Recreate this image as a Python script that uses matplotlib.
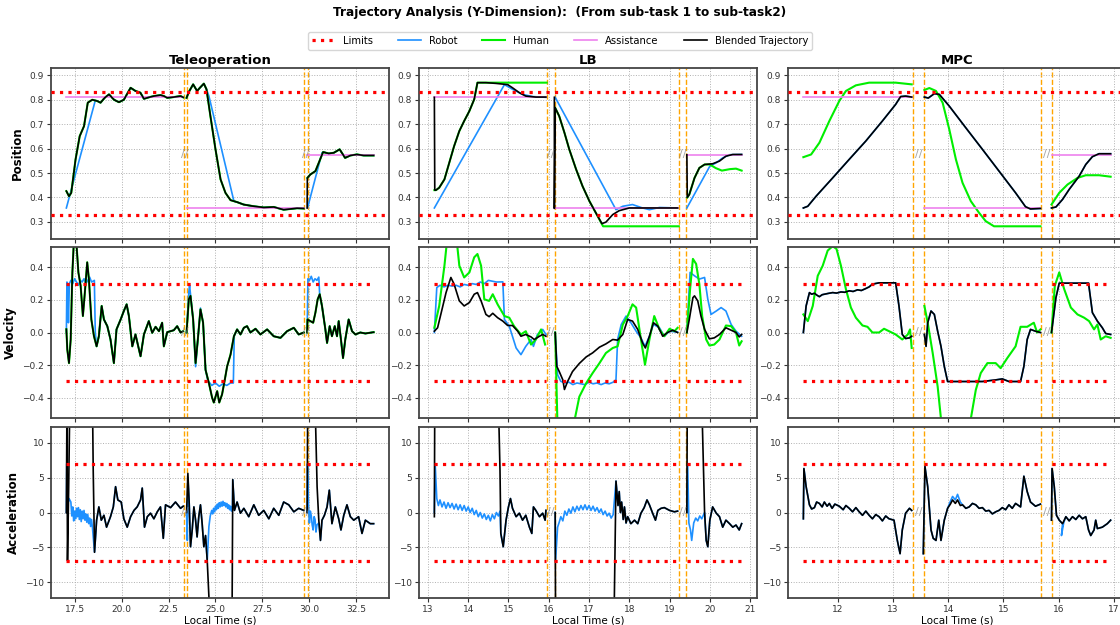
import numpy as np
import matplotlib.pyplot as plt
from matplotlib.ticker import MultipleLocator
from matplotlib.transforms import blended_transform_factory

# -------------------------------------------------------------------
# Trajectory analysis (Y-dimension), three controllers side by side
# -------------------------------------------------------------------

methods = ["Teleoperation", "LB", "MPC"]
row_labels = ["Position", "Velocity", "Acceleration"]

POS_LIMITS = (0.33, 0.83)
VEL_LIMIT = 0.3
ACC_LIMIT = 7.0
assist_targets = [0.81, 0.355, 0.575]

# time span of every sub-task segment
tele_segments = [(17.06, 23.28), (23.46, 29.70), (29.88, 33.42)]
lb_segments = [(13.16, 15.93), (16.14, 19.20), (19.43, 20.79)]
mpc_segments = [(11.38, 13.34), (13.57, 15.67), (15.87, 16.94)]

# orange dashed separators (start/end of each gap)
tele_bounds = [23.30, 23.46, 29.70, 29.90]
lb_bounds = [15.95, 16.15, 19.23, 19.42]
mpc_bounds = [13.36, 13.56, 15.68, 15.88]

# x tick step per column
tick_steps = [2.5, 1.0, 1.0]


def after(points, t0):
    return [p for p in points if p[0] >= t0]


# ------------------------- TELEOPERATION -------------------------
tele_pos_blend = [
    [(17.06, 0.426), (17.2, 0.405), (17.32, 0.419), (17.55, 0.556), (17.77, 0.651), (18.0, 0.692),
     (18.2, 0.788), (18.44, 0.80), (18.7, 0.795), (18.88, 0.788), (19.1, 0.808), (19.33, 0.822),
     (19.6, 0.80), (19.86, 0.79), (20.12, 0.80), (20.48, 0.849), (20.74, 0.836), (21.0, 0.829),
     (21.19, 0.804), (21.45, 0.81), (21.72, 0.815), (22.07, 0.819), (22.25, 0.815), (22.43, 0.808),
     (22.78, 0.811), (23.14, 0.815), (23.28, 0.81)],
    [(23.46, 0.808), (23.58, 0.832), (23.81, 0.863), (24.02, 0.836), (24.17, 0.849), (24.38, 0.866),
     (24.52, 0.843), (24.73, 0.733), (25.0, 0.597), (25.27, 0.474), (25.53, 0.419), (25.8, 0.389),
     (26.15, 0.381), (26.5, 0.371), (27.04, 0.364), (27.57, 0.359), (28.1, 0.361), (28.63, 0.35),
     (28.99, 0.353), (29.34, 0.356), (29.7, 0.355)],
    [(29.88, 0.357), (29.89, 0.48), (30.05, 0.494), (30.32, 0.508), (30.5, 0.542), (30.73, 0.586),
     (31.03, 0.58), (31.3, 0.583), (31.61, 0.597), (31.9, 0.562), (32.18, 0.572), (32.53, 0.576),
     (32.89, 0.572), (33.42, 0.572)],
]
tele_pos_human = [tele_pos_blend[0], tele_pos_blend[1], tele_pos_blend[2][1:]]
tele_pos_robot = [
    [(17.06, 0.357), (18.6, 0.797)] + after(tele_pos_blend[0], 18.7),
    [(23.46, 0.808), (23.58, 0.832), (23.81, 0.863), (24.02, 0.836), (24.17, 0.849), (24.38, 0.866),
     (24.52, 0.843), (24.65, 0.815), (25.98, 0.385)] + after(tele_pos_blend[1], 26.15),
    [(29.9, 0.357), (30.67, 0.583)] + after(tele_pos_blend[2], 30.73),
]

tele_vel_blend = [
    [(17.06, 0.02), (17.11, -0.105), (17.2, -0.188), (17.29, -0.043), (17.38, 0.369), (17.46, 0.56),
     (17.6, 0.54), (17.7, 0.369), (17.82, 0.287), (17.94, 0.101), (18.03, 0.225), (18.17, 0.431),
     (18.26, 0.328), (18.39, 0.08), (18.53, -0.023), (18.67, -0.085), (18.79, -0.023), (18.94, 0.163),
     (19.06, 0.08), (19.24, 0.039), (19.41, -0.043), (19.59, -0.188), (19.73, 0.019), (19.95, 0.08),
     (20.12, 0.132), (20.27, 0.173), (20.39, 0.101), (20.57, -0.085), (20.74, -0.012), (21.01, -0.146),
     (21.19, -0.012), (21.45, 0.07), (21.63, -0.002), (21.81, 0.035), (21.99, 0.008), (22.16, 0.06),
     (22.25, -0.085), (22.43, 0.002), (22.78, 0.014), (22.96, 0.039), (23.14, 0.0), (23.28, 0.008)],
    [(23.46, 0.0), (23.58, 0.204), (23.67, 0.225), (23.81, 0.08), (23.94, -0.188), (24.06, -0.043),
     (24.2, 0.142), (24.34, 0.06), (24.47, -0.229), (24.65, -0.311), (24.82, -0.40), (24.91, -0.43),
     (25.09, -0.36), (25.2, -0.43), (25.35, -0.38), (25.48, -0.30), (25.62, -0.208), (25.8, -0.136),
     (25.98, -0.023), (26.15, 0.019), (26.33, -0.012), (26.51, 0.029), (26.68, 0.039), (26.86, 0.0),
     (27.13, 0.023), (27.39, -0.012), (27.75, 0.019), (28.1, -0.023), (28.46, -0.033), (28.81, 0.008),
     (29.17, 0.029), (29.43, -0.012), (29.7, 0.0)],
    [(29.88, 0.0), (29.9, 0.08), (30.05, 0.07), (30.2, 0.06), (30.32, 0.122), (30.44, 0.204),
     (30.55, 0.235), (30.67, 0.163), (30.85, 0.019), (30.94, -0.064), (31.08, 0.039), (31.2, -0.023),
     (31.35, 0.039), (31.47, -0.023), (31.56, 0.07), (31.68, -0.043), (31.79, -0.157), (31.91, -0.043),
     (32.09, 0.08), (32.27, 0.008), (32.45, -0.012), (32.71, 0.0), (32.98, -0.006), (33.42, 0.002)],
]
tele_vel_human = tele_vel_blend
tele_vel_robot = [
    [(17.06, 0.0), (17.09, 0.31), (17.13, 0.29), (17.17, 0.06), (17.22, 0.30), (17.3, 0.32),
     (17.4, 0.30), (17.5, 0.33), (17.6, 0.31), (17.7, 0.29), (17.8, 0.32), (17.9, 0.31), (18.0, 0.33),
     (18.1, 0.30), (18.2, 0.32), (18.3, 0.34), (18.4, 0.31), (18.55, 0.32), (18.6, 0.0)]
    + after(tele_vel_blend[0], 18.67),
    [(23.46, 0.0), (23.58, 0.25), (23.62, 0.29), (23.7, 0.2), (23.81, 0.08), (23.94, -0.21),
     (24.06, -0.043), (24.2, 0.15), (24.34, 0.06), (24.47, -0.229), (24.6, -0.30), (24.7, -0.31),
     (24.8, -0.325), (25.0, -0.31), (25.2, -0.33), (25.4, -0.315), (25.6, -0.325), (25.8, -0.31),
     (25.95, -0.31), (26.0, -0.02)] + after(tele_vel_blend[1], 26.15),
    [(29.88, 0.0), (29.92, 0.33), (30.0, 0.32), (30.1, 0.345), (30.2, 0.31), (30.3, 0.33),
     (30.4, 0.32), (30.5, 0.34), (30.55, 0.225)] + after(tele_vel_blend[2], 30.67),
]

tele_acc_blend = [
    [(17.06, 0.0), (17.09, 15.0), (17.12, -6.9), (17.18, 3.0), (17.24, 15.0), (17.3, 16.0), (18.45, 16.0),
     (18.49, 6.0), (18.56, -5.7), (18.67, -1.1), (18.79, 0.8), (18.92, -1.1), (19.06, -0.4), (19.2, -2.1),
     (19.41, -0.6), (19.56, 0.8), (19.68, 3.7), (19.8, 1.8), (19.98, 1.5), (20.12, -0.9), (20.3, -2.1),
     (20.48, -0.6), (20.66, 0.3), (20.83, 0.8), (21.01, 1.8), (21.1, 3.5), (21.22, -2.1), (21.37, -0.6),
     (21.54, -0.1), (21.72, -0.9), (21.9, 0.1), (22.07, 0.8), (22.22, -3.7), (22.34, 1.1), (22.61, 0.7),
     (22.87, 1.5), (23.14, 0.6), (23.28, 0.9)],
    [(23.46, 0.0), (23.53, 5.6), (23.6, 1.3), (23.67, -4.9), (23.76, -2.5), (23.85, 0.8), (23.94, -1.1),
     (24.02, -3.5), (24.11, -0.6), (24.2, 1.1), (24.29, -1.6), (24.38, -4.9), (24.47, -3.3), (24.56, -6.9),
     (24.65, -12.1), (24.7, -16.0), (25.88, -16.0), (25.92, 4.7), (26.01, 0.3), (26.15, 1.5), (26.33, -0.1),
     (26.51, 0.6), (26.77, -0.6), (27.04, 1.1), (27.3, -0.4), (27.57, 0.3), (27.84, -0.9), (28.1, 0.6),
     (28.37, -0.4), (28.63, 1.5), (28.9, 1.1), (29.17, 0.1), (29.43, 0.6), (29.7, 0.3)],
    [(29.88, 0.0), (29.91, 16.0), (30.3, 16.0), (30.41, 3.7), (30.5, -1.1), (30.59, -4.0), (30.67, -1.1),
     (30.8, -0.4), (30.94, 0.8), (31.06, 3.2), (31.2, -1.6), (31.38, 0.8), (31.56, -0.9), (31.68, -2.5),
     (31.83, -0.4), (32.0, 1.1), (32.18, -0.6), (32.36, -1.1), (32.62, -0.6), (32.8, -3.0), (32.98, -1.1),
     (33.24, -1.6), (33.42, -1.6)],
]
tele_acc_robot = [
    [(17.06, 0.0), (17.08, 7.0), (17.12, 1.0), (17.2, 2.0), (17.3, 1.5), (17.35, -0.5), (17.4, 0.8),
     (17.45, -1.2), (17.5, 0.2), (17.55, -0.9), (17.6, 0.6), (17.65, -0.6), (17.7, 0.7), (17.75, -1.0),
     (17.8, 0.4), (17.85, -1.3), (17.9, 0.2), (17.95, -0.9), (18.0, 0.3), (18.05, -1.1), (18.1, -0.2),
     (18.15, -1.4), (18.2, -0.3), (18.25, -1.6), (18.3, -0.8), (18.35, -2.0), (18.4, -1.0), (18.45, -2.2)]
    + after(tele_acc_blend[0], 18.56),
    [(23.46, 0.0), (23.5, -4.0), (23.53, 5.0)] + after(tele_acc_blend[1], 23.6)[:12]
    + [(24.65, -2.0), (24.72, -0.5), (24.8, 0.3), (24.85, -0.2), (24.9, 0.6), (24.95, 0.1), (25.0, 0.9),
       (25.05, 0.4), (25.1, 1.2), (25.15, 0.6), (25.2, 1.4), (25.25, 0.8), (25.3, 1.5), (25.35, 0.9),
       (25.4, 1.6), (25.45, 1.0), (25.5, 1.4), (25.55, 0.8), (25.6, 1.3), (25.65, 0.6), (25.7, 1.1),
       (25.75, 0.4), (25.8, 0.9), (25.85, 0.2), (25.9, 0.6)] + after(tele_acc_blend[1], 25.92),
    [(29.88, 0.0), (29.9, 7.0), (29.95, 1.0), (30.0, -1.5), (30.05, 0.2), (30.1, -0.5), (30.15, -1.8),
     (30.2, -2.5), (30.25, -0.6), (30.3, -1.0), (30.35, -2.8), (30.4, -1.8), (30.5, -1.5)]
    + after(tele_acc_blend[2], 30.59),
]

# ------------------------------ LB ------------------------------
lb_pos_blend = [
    [(13.16, 0.81), (13.17, 0.43), (13.2, 0.43), (13.28, 0.44), (13.41, 0.474), (13.53, 0.542),
     (13.65, 0.61), (13.78, 0.672), (13.9, 0.713), (14.03, 0.754), (14.15, 0.802), (14.23, 0.87),
     (14.44, 0.87), (14.69, 0.867), (14.98, 0.862), (15.1, 0.849), (15.27, 0.829), (15.43, 0.815),
     (15.68, 0.811), (15.93, 0.811)],
    [(16.14, 0.81), (16.14, 0.355), (16.16, 0.767), (16.26, 0.733), (16.39, 0.665), (16.51, 0.597),
     (16.68, 0.515), (16.84, 0.446), (17.01, 0.385), (17.17, 0.337), (17.32, 0.293), (17.42, 0.299),
     (17.59, 0.33), (17.75, 0.346), (18.0, 0.357), (18.42, 0.357), (19.2, 0.357)],
    [(19.43, 0.575), (19.44, 0.40), (19.49, 0.412), (19.62, 0.48), (19.74, 0.521), (19.87, 0.535),
     (20.07, 0.538), (20.24, 0.549), (20.4, 0.569), (20.57, 0.576), (20.79, 0.576)],
]
lb_pos_human = [
    [(13.16, 0.43), (13.2, 0.43), (13.28, 0.44), (13.41, 0.474), (13.53, 0.542), (13.65, 0.61),
     (13.78, 0.672), (13.9, 0.713), (14.03, 0.754), (14.15, 0.802), (14.23, 0.87), (14.44, 0.87),
     (14.69, 0.87), (15.95, 0.87)],
    [(16.16, 0.767), (16.26, 0.733), (16.39, 0.665), (16.51, 0.597), (16.68, 0.515), (16.84, 0.446),
     (17.01, 0.385), (17.17, 0.337), (17.35, 0.282), (19.23, 0.282)],
    [(19.44, 0.40), (19.49, 0.412), (19.62, 0.48), (19.74, 0.521), (19.87, 0.535), (20.0, 0.535),
     (20.15, 0.52), (20.3, 0.51), (20.5, 0.516), (20.65, 0.518), (20.79, 0.51)],
]
lb_pos_robot = [
    [(13.16, 0.357), (14.9, 0.862), (15.1, 0.843), (15.35, 0.822), (15.6, 0.813), (15.93, 0.81)],
    [(16.16, 0.81), (17.67, 0.35), (17.84, 0.364), (18.08, 0.371), (18.33, 0.357), (18.5, 0.35),
     (18.75, 0.359), (19.2, 0.357)],
    [(19.43, 0.357), (20.0, 0.528), (20.16, 0.542), (20.32, 0.562), (20.49, 0.575), (20.79, 0.576)],
]

lb_vel_blend = [
    [(13.16, 0.008), (13.24, 0.029), (13.32, 0.111), (13.45, 0.245), (13.57, 0.338), (13.65, 0.297),
     (13.78, 0.194), (13.9, 0.163), (14.03, 0.184), (14.15, 0.235), (14.23, 0.245), (14.32, 0.194),
     (14.44, 0.111), (14.52, 0.097), (14.61, 0.118), (14.73, 0.091), (14.86, 0.07), (14.98, 0.043),
     (15.1, 0.043), (15.23, 0.008), (15.31, -0.023), (15.43, -0.012), (15.56, -0.027), (15.64, -0.043),
     (15.77, -0.023), (15.85, -0.012), (15.93, -0.023)],
    [(16.16, 0.0), (16.2, -0.208), (16.26, -0.239), (16.35, -0.291), (16.39, -0.35), (16.47, -0.30),
     (16.59, -0.24), (16.76, -0.19), (16.93, -0.15), (17.09, -0.125), (17.26, -0.09), (17.42, -0.07),
     (17.59, -0.043), (17.71, -0.047), (17.84, -0.012), (17.96, 0.08), (18.08, 0.07), (18.21, 0.019),
     (18.33, -0.064), (18.4, -0.095), (18.5, -0.023), (18.6, 0.06), (18.71, 0.039), (18.83, -0.023),
     (18.95, 0.0), (19.08, 0.014), (19.2, 0.0)],
    [(19.43, 0.0), (19.49, 0.08), (19.58, 0.214), (19.62, 0.225), (19.7, 0.194), (19.78, 0.101),
     (19.87, 0.019), (19.99, -0.039), (20.11, -0.033), (20.24, -0.012), (20.4, 0.029), (20.53, 0.014),
     (20.65, 0.0), (20.73, -0.027), (20.79, -0.012)],
]
lb_vel_human = [
    [(13.16, 0.029), (13.28, 0.163), (13.41, 0.41), (13.49, 0.6), (13.7, 0.6), (13.78, 0.41),
     (13.9, 0.338), (14.03, 0.369), (14.15, 0.462), (14.23, 0.482), (14.32, 0.41), (14.4, 0.204),
     (14.52, 0.194), (14.61, 0.235), (14.73, 0.173), (14.9, 0.101), (15.02, 0.091), (15.14, 0.039),
     (15.31, -0.012), (15.43, 0.008), (15.56, -0.074), (15.68, -0.043), (15.81, 0.019), (15.91, -0.074)],
    [(16.16, 0.0), (16.22, -0.6), (16.4, -0.7), (16.55, -0.62), (16.64, -0.54), (16.76, -0.394),
     (16.93, -0.311), (17.09, -0.249), (17.26, -0.188), (17.42, -0.126), (17.59, -0.095), (17.71, -0.085),
     (17.84, 0.049), (17.96, 0.101), (18.08, 0.173), (18.17, 0.153), (18.29, -0.043), (18.39, -0.198),
     (18.5, -0.043), (18.62, 0.101), (18.75, 0.019), (18.87, -0.023), (19.0, 0.023), (19.12, 0.008),
     (19.2, 0.029)],
    [(19.43, 0.0), (19.51, 0.266), (19.58, 0.452), (19.66, 0.421), (19.74, 0.297), (19.81, 0.101),
     (19.91, -0.043), (19.99, -0.08), (20.11, -0.074), (20.24, -0.043), (20.4, 0.043), (20.53, 0.039),
     (20.65, 0.0), (20.73, -0.08), (20.79, -0.054)],
]
lb_vel_robot = [
    [(13.16, 0.0), (13.22, 0.276), (13.3, 0.29), (13.4, 0.28), (13.5, 0.29), (13.6, 0.285), (13.7, 0.29),
     (13.8, 0.28), (13.9, 0.295), (14.0, 0.29), (14.1, 0.30), (14.2, 0.295), (14.3, 0.31), (14.4, 0.30),
     (14.5, 0.32), (14.6, 0.315), (14.7, 0.31), (14.86, 0.311), (14.9, 0.08), (15.02, 0.039),
     (15.19, -0.095), (15.31, -0.136), (15.43, -0.085), (15.56, -0.043), (15.62, -0.085), (15.72, -0.012),
     (15.85, 0.019), (15.93, -0.012)],
    [(16.16, 0.0), (16.22, -0.26), (16.3, -0.30), (16.4, -0.31), (16.5, -0.305), (16.6, -0.32),
     (16.7, -0.31), (16.8, -0.315), (16.9, -0.32), (17.0, -0.305), (17.1, -0.315), (17.2, -0.31),
     (17.3, -0.32), (17.4, -0.31), (17.5, -0.315), (17.6, -0.305), (17.67, -0.29), (17.71, -0.043),
     (17.8, 0.049), (17.92, 0.101), (18.04, 0.06), (18.17, 0.008), (18.29, -0.033), (18.39, -0.085),
     (18.5, -0.023), (18.6, 0.05), (18.75, 0.029), (18.87, -0.023), (19.0, 0.008), (19.2, 0.002)],
    [(19.43, 0.0), (19.51, 0.369), (19.62, 0.348), (19.74, 0.328), (19.87, 0.338), (19.95, 0.204),
     (20.03, 0.111), (20.16, 0.132), (20.28, 0.153), (20.4, 0.132), (20.53, 0.049), (20.65, 0.008),
     (20.79, -0.023)],
]

lb_acc_blend = [
    [(13.16, -0.6), (13.17, 16.0), (14.75, 16.0), (14.79, 6.0), (14.81, -3.0), (14.87, -4.9), (14.94, -1.1),
     (15.0, 0.8), (15.05, 2.0), (15.1, 0.6), (15.19, -0.6), (15.27, -0.1), (15.35, -1.1), (15.43, -0.4),
     (15.52, -2.1), (15.58, -3.0), (15.62, 0.8), (15.68, 0.3), (15.77, -0.6), (15.85, -0.1),
     (15.91, -1.1), (15.93, 0.3)],
    [(16.16, 0.0), (16.17, -16.0), (17.62, -16.0), (17.67, 4.5), (17.72, 1.0), (17.75, 3.0), (17.78, 0.0),
     (17.81, 1.5), (17.85, -1.0), (17.88, 0.8), (17.92, -1.5), (17.96, -0.6), (18.04, -1.6), (18.13, -1.1),
     (18.21, -1.6), (18.29, -0.1), (18.37, 0.7), (18.44, 1.8), (18.5, 1.1), (18.58, -0.1), (18.65, -1.1),
     (18.71, 0.3), (18.79, 0.6), (18.87, 0.7), (19.0, 0.3), (19.12, 0.1), (19.2, 0.2)],
    [(19.43, 0.0), (19.44, 16.0), (19.8, 16.0), (19.87, 0.0), (19.91, -4.0), (19.95, -4.9), (20.0, -1.1),
     (20.07, 0.8), (20.16, -0.1), (20.24, -0.6), (20.32, -2.1), (20.4, -1.1), (20.49, -1.6), (20.57, -2.1),
     (20.65, -1.8), (20.73, -2.5), (20.79, -1.6)],
]
lb_acc_robot = [
    [(13.16, 0.0), (13.18, 7.0), (13.22, 2.0), (13.26, 1.0), (13.3, 1.8), (13.35, 0.8), (13.4, 1.5),
     (13.45, 0.6), (13.5, 1.4), (13.55, 0.7), (13.6, 1.3), (13.65, 0.5), (13.7, 1.2), (13.75, 0.4),
     (13.8, 1.1), (13.85, 0.3), (13.9, 1.0), (13.95, 0.2), (14.0, 0.8), (14.05, 0.0), (14.1, 0.6),
     (14.15, -0.3), (14.2, 0.3), (14.25, -0.6), (14.3, 0.0), (14.35, -0.8), (14.4, -0.2), (14.45, -1.0),
     (14.5, -0.4), (14.55, -1.2), (14.6, -0.3), (14.65, -0.9), (14.7, 0.0), (14.75, -0.5), (14.79, 0.2)]
    + after(lb_acc_blend[0], 14.81),
    [(16.16, 0.0), (16.17, -6.9), (16.22, -2.1), (16.26, -1.4), (16.3, -0.6), (16.35, -1.2), (16.4, 0.2),
     (16.45, -0.4), (16.5, 0.5), (16.55, -0.1), (16.6, 0.8), (16.65, 0.1), (16.7, 0.9), (16.75, 0.3),
     (16.8, 1.0), (16.85, 0.4), (16.9, 1.1), (16.95, 0.4), (17.0, 1.0), (17.05, 0.3), (17.1, 0.9),
     (17.15, 0.2), (17.2, 0.7), (17.25, 0.0), (17.3, 0.5), (17.35, -0.3), (17.4, 0.2), (17.45, -0.5),
     (17.5, -0.1), (17.55, -0.8), (17.6, -0.3)] + after(lb_acc_blend[1], 17.67),
    [(19.43, 0.0), (19.45, 7.0), (19.48, -1.5), (19.52, -2.5), (19.55, -4.0), (19.6, -1.5), (19.65, -0.8),
     (19.7, -1.2), (19.75, -0.5), (19.8, -0.9)] + after(lb_acc_blend[2], 19.87),
]

# ------------------------------ MPC ------------------------------
mpc_pos_blend = [
    [(11.38, 0.357), (11.46, 0.364), (11.61, 0.405), (11.91, 0.48), (12.21, 0.556), (12.51, 0.631),
     (12.81, 0.713), (13.05, 0.781), (13.14, 0.813), (13.23, 0.815), (13.34, 0.811)],
    [(13.57, 0.811), (13.64, 0.807), (13.75, 0.825), (13.84, 0.822), (14.02, 0.774), (14.32, 0.685),
     (14.62, 0.597), (14.92, 0.508), (15.22, 0.419), (15.4, 0.362), (15.49, 0.353), (15.67, 0.355)],
    [(15.87, 0.357), (15.95, 0.361), (16.07, 0.392), (16.19, 0.433), (16.37, 0.487), (16.49, 0.535),
     (16.61, 0.567), (16.73, 0.579), (16.94, 0.579)],
]
mpc_pos_robot = mpc_pos_blend
mpc_pos_human = [
    [(11.38, 0.565), (11.52, 0.576), (11.67, 0.624), (11.85, 0.713), (12.03, 0.795), (12.15, 0.836),
     (12.33, 0.859), (12.57, 0.87), (13.05, 0.87), (13.34, 0.863)],
    [(13.57, 0.84), (13.66, 0.848), (13.78, 0.836), (13.9, 0.788), (14.02, 0.679), (14.14, 0.556),
     (14.26, 0.46), (14.41, 0.385), (14.56, 0.337), (14.68, 0.303), (14.83, 0.282), (15.67, 0.282)],
    [(15.87, 0.371), (16.01, 0.419), (16.16, 0.453), (16.34, 0.48), (16.49, 0.491), (16.73, 0.491),
     (16.94, 0.485)],
]

mpc_vel_blend = [
    [(11.38, 0.0), (11.43, 0.163), (11.49, 0.245), (11.53, 0.235), (11.58, 0.241), (11.63, 0.228),
     (11.67, 0.22), (11.72, 0.232), (11.76, 0.235), (11.83, 0.24), (11.91, 0.245), (11.98, 0.242),
     (12.06, 0.249), (12.13, 0.247), (12.21, 0.256), (12.28, 0.252), (12.36, 0.262), (12.43, 0.258),
     (12.51, 0.27), (12.57, 0.28), (12.63, 0.297), (12.75, 0.305), (13.05, 0.305), (13.11, 0.163),
     (13.17, -0.012), (13.23, -0.037), (13.3, -0.033), (13.34, -0.023)],
    [(13.57, -0.012), (13.6, -0.085), (13.63, 0.06), (13.69, 0.132), (13.75, 0.111), (13.81, 0.008),
     (13.87, -0.085), (13.93, -0.208), (13.99, -0.301), (14.62, -0.301), (14.86, -0.291), (14.98, -0.285),
     (15.1, -0.301), (15.31, -0.301), (15.37, -0.208), (15.43, -0.043), (15.49, 0.019), (15.58, 0.008),
     (15.67, 0.0)],
    [(15.87, 0.0), (15.95, 0.214), (16.01, 0.303), (16.54, 0.303), (16.61, 0.122), (16.7, 0.07),
     (16.79, 0.029), (16.85, -0.006), (16.94, -0.012)],
]
mpc_vel_robot = mpc_vel_blend
mpc_vel_human = [
    [(11.38, 0.111), (11.46, 0.07), (11.55, 0.163), (11.64, 0.348), (11.73, 0.41), (11.82, 0.503),
     (11.91, 0.53), (11.98, 0.513), (12.06, 0.41), (12.15, 0.266), (12.24, 0.153), (12.33, 0.091),
     (12.45, 0.043), (12.54, 0.035), (12.63, 0.0), (12.75, 0.0), (12.84, 0.023), (12.93, 0.008),
     (13.05, -0.012), (13.17, -0.043), (13.27, -0.012), (13.31, 0.019), (13.34, -0.095)],
    [(13.57, 0.163), (13.63, 0.06), (13.72, -0.126), (13.81, -0.332), (13.87, -0.53), (13.95, -0.6),
     (14.1, -0.7), (14.3, -0.62), (14.41, -0.53), (14.5, -0.353), (14.59, -0.249), (14.71, -0.188),
     (14.86, -0.188), (14.95, -0.219), (15.07, -0.157), (15.22, -0.085), (15.31, 0.035), (15.43, 0.035),
     (15.55, 0.06), (15.61, 0.0), (15.67, 0.019)],
    [(15.87, 0.0), (15.93, 0.287), (16.01, 0.369), (16.1, 0.266), (16.22, 0.153), (16.34, 0.111),
     (16.46, 0.091), (16.55, 0.07), (16.64, 0.019), (16.7, 0.049), (16.76, -0.043), (16.85, -0.023),
     (16.94, -0.033)],
]

mpc_acc_blend = [
    [(11.38, -0.9), (11.39, 6.3), (11.43, 3.7), (11.49, 1.1), (11.53, 0.5), (11.58, 0.7), (11.62, 1.5),
     (11.67, 1.3), (11.72, 0.8), (11.76, 1.5), (11.81, 0.9), (11.85, 1.3), (11.9, 0.6), (11.95, 1.2),
     (12.03, 0.9), (12.1, 0.4), (12.15, 1.0), (12.21, 0.6), (12.27, 0.1), (12.33, 0.7), (12.39, 0.1),
     (12.45, -0.4), (12.51, 0.2), (12.57, -0.4), (12.63, -0.9), (12.69, -0.3), (12.75, -0.6),
     (12.81, -1.2), (12.87, -0.5), (12.93, -0.9), (13.02, -1.1), (13.08, -4.0), (13.13, -5.9),
     (13.17, -2.5), (13.23, -0.1), (13.3, 0.6), (13.34, 0.3)],
    [(13.55, -5.9), (13.58, 6.6), (13.63, 3.7), (13.69, -2.5), (13.73, -3.7), (13.78, -4.0), (13.83, -1.1),
     (13.87, -4.0), (13.93, -1.1), (13.99, 0.6), (14.04, 1.2), (14.08, 1.8), (14.13, 1.3), (14.17, 1.8),
     (14.22, 1.0), (14.26, 1.1), (14.32, 0.6), (14.38, 0.8), (14.44, 1.3), (14.5, 1.1), (14.56, 0.6),
     (14.62, 0.7), (14.68, 0.2), (14.74, 0.3), (14.8, -0.2), (14.86, 0.1), (14.92, 0.3), (14.98, 0.7),
     (15.04, 0.4), (15.1, 1.1), (15.16, 0.6), (15.22, 1.3), (15.31, 0.8), (15.37, 5.2), (15.43, 3.0),
     (15.49, 1.5), (15.58, 0.9), (15.67, 1.2)],
    [(15.87, -1.1), (15.88, 6.3), (15.92, 3.7), (15.96, -0.4), (16.01, -1.1), (16.07, -1.6), (16.13, -0.6),
     (16.19, -1.2), (16.25, -0.6), (16.31, -1.0), (16.37, -0.4), (16.43, -0.9), (16.49, -0.6),
     (16.54, -2.5), (16.58, -3.3), (16.64, -2.5), (16.67, -1.1), (16.7, -2.3), (16.79, -2.1),
     (16.88, -1.6), (16.94, -1.1)],
]
mpc_acc_robot = [
    mpc_acc_blend[0],
    mpc_acc_blend[1][:10] + [(14.04, 1.6), (14.08, 2.3), (14.13, 1.8), (14.17, 2.6), (14.22, 1.5)]
    + mpc_acc_blend[1][15:],
    mpc_acc_blend[2][:6] + [(16.05, -3.3), (16.09, -1.5)] + mpc_acc_blend[2][6:],
]

# table of everything per column (built from the lists above)
columns = [
    dict(segments=tele_segments, bounds=tele_bounds,
         pos=(tele_pos_robot, tele_pos_human, tele_pos_blend),
         vel=(tele_vel_robot, tele_vel_human, tele_vel_blend),
         acc=(tele_acc_robot, None, tele_acc_blend)),
    dict(segments=lb_segments, bounds=lb_bounds,
         pos=(lb_pos_robot, lb_pos_human, lb_pos_blend),
         vel=(lb_vel_robot, lb_vel_human, lb_vel_blend),
         acc=(lb_acc_robot, None, lb_acc_blend)),
    dict(segments=mpc_segments, bounds=mpc_bounds,
         pos=(mpc_pos_robot, mpc_pos_human, mpc_pos_blend),
         vel=(mpc_vel_robot, mpc_vel_human, mpc_vel_blend),
         acc=(mpc_acc_robot, None, mpc_acc_blend)),
]

C_LIMIT = "red"
C_ROBOT = "#1E90FF"
C_HUMAN = "#00EE00"
C_ASSIST = "#EE82EE"
C_BLEND = "black"


def to_xy(segs):
    # join the segments with NaN so each one is drawn on its own
    xs, ys = [], []
    for seg in segs:
        xs += [p[0] for p in seg] + [np.nan]
        ys += [p[1] for p in seg] + [np.nan]
    return np.array(xs), np.array(ys)


def draw(ax, segs, **kw):
    x, y = to_xy(segs)
    return ax.plot(x, y, **kw)[0]


fig = plt.figure(figsize=(11.2, 6.25), dpi=100)
W, H = 1120.0, 625.0
col_left = [51, 419, 788]
col_w = 338
row_top = [68, 247, 427]
row_h = 171

handles = {}
for c, col in enumerate(columns):
    axes = []
    for r in range(3):
        left = col_left[c] / W
        bottom = 1 - (row_top[r] + row_h) / H
        ax = fig.add_axes([left, bottom, col_w / W, row_h / H],
                          sharex=axes[0] if axes else None)
        axes.append(ax)

    key = ["pos", "vel", "acc"]
    for r, ax in enumerate(axes):
        robot, human, blend = col[key[r]]
        h_r = draw(ax, robot, color=C_ROBOT, lw=1.2, zorder=2)
        if human is not None:
            h_h = draw(ax, human, color=C_HUMAN, lw=1.5, zorder=2.1)
            handles["Human"] = h_h
        h_b = draw(ax, blend, color=C_BLEND, lw=1.2, zorder=2.3)
        handles["Robot"] = h_r
        handles["Blended Trajectory"] = h_b

        if r == 0:
            for (t0, t1), target in zip(col["segments"], assist_targets):
                h_a, = ax.plot([t0, t1], [target, target], color=C_ASSIST, lw=1.2, zorder=2.2)
            handles["Assistance"] = h_a
            for lim in POS_LIMITS:
                h_l = ax.axhline(lim, color=C_LIMIT, ls=":", lw=2.3, zorder=3)
            handles["Limits"] = h_l
            ax.set_ylim(POS_LIMITS[0] - 0.1, POS_LIMITS[1] + 0.1)
        else:
            lim = VEL_LIMIT if r == 1 else ACC_LIMIT
            for t0, t1 in col["segments"]:
                ax.plot([t0, t1], [lim, lim], color=C_LIMIT, ls=":", lw=2.3, zorder=3)
                ax.plot([t0, t1], [-lim, -lim], color=C_LIMIT, ls=":", lw=2.3, zorder=3)
            ax.set_ylim(-lim * 1.75, lim * 1.75)

        for b in col["bounds"]:
            ax.axvline(b, color="orange", ls="--", lw=1.0, zorder=1.5)
        trans = blended_transform_factory(ax.transData, ax.transAxes)
        bnd = col["bounds"]
        for k in range(0, len(bnd), 2):
            ax.text((bnd[k] + bnd[k + 1]) / 2, 0.5, "//", transform=trans, ha="center", va="center",
                    color="gray", alpha=0.7, fontsize=8, zorder=4)

        ax.xaxis.set_major_locator(MultipleLocator(tick_steps[c]))
        ax.grid(True, ls=":", color="#b0b0b0", lw=0.7)
        ax.tick_params(labelsize=6.5, colors="#333333", length=3, width=0.8, pad=2)
        for s in ax.spines.values():
            s.set_color("#444444")
            s.set_linewidth(1.3)
        if r < 2:
            ax.tick_params(labelbottom=False)
        else:
            ax.set_xlabel("Local Time (s)", fontsize=7.5, labelpad=1)
        if c == 0:
            ax.set_ylabel(row_labels[r], fontsize=8.5, fontweight="bold", labelpad=4)
    axes[0].set_title(methods[c], fontsize=9.5, fontweight="bold", pad=3)

order = ["Limits", "Robot", "Human", "Assistance", "Blended Trajectory"]
fig.legend([handles[k] for k in order], order, loc="upper center", bbox_to_anchor=(0.5, 0.957),
           ncol=5, fontsize=7.2, frameon=True, handlelength=2.3, columnspacing=2.5,
           borderpad=0.4)
fig.suptitle("Trajectory Analysis (Y-Dimension):  (From sub-task 1 to sub-task2)",
             fontsize=8.7, fontweight="bold", y=0.99)

fig.savefig("out.png", dpi=100)
